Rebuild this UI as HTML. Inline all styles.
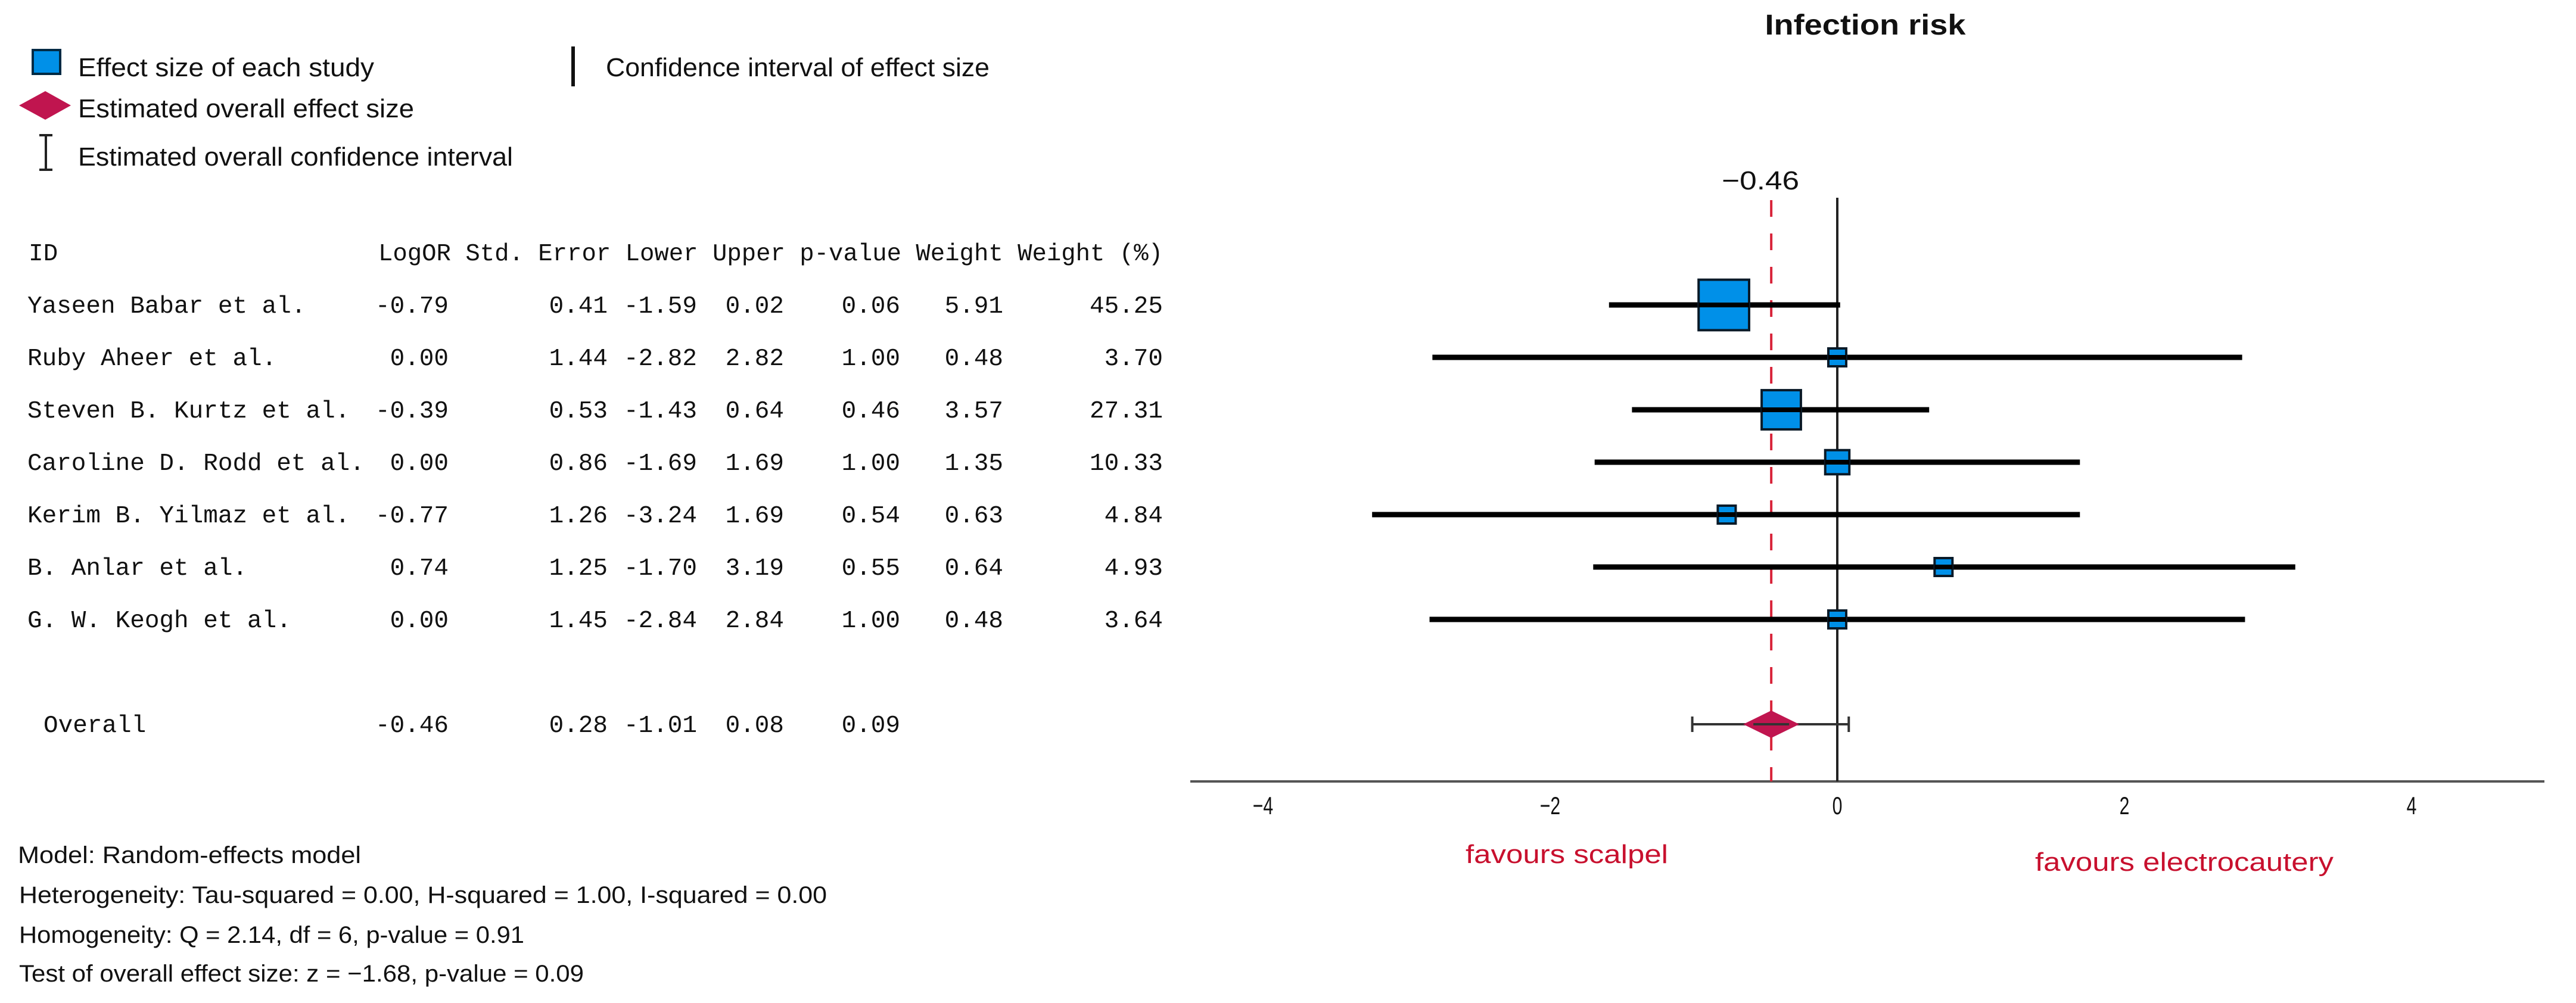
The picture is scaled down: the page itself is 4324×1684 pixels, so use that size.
<!DOCTYPE html>
<html><head><meta charset="utf-8"><style>
html,body{margin:0;padding:0;background:#fff;}
svg{display:block;}
.sans{font-family:"Liberation Sans",sans-serif;}
.mono{font-family:"Liberation Mono",monospace;font-size:41px;fill:#111;}
</style></head><body>
<svg id="chart" width="4324" height="1684" viewBox="0 0 4324 1684" xmlns="http://www.w3.org/2000/svg">
<g class="sans" font-size="44" fill="#111">
  <rect x="55" y="84" width="46" height="40" fill="#0090e8" stroke="#002a44" stroke-width="4"/>
  <text x="131" y="128" textLength="497" lengthAdjust="spacingAndGlyphs">Effect size of each study</text>
  <polygon points="32,177 76,153 119,177 76,201" fill="#c0154f"/>
  <text x="131" y="197" textLength="564" lengthAdjust="spacingAndGlyphs">Estimated overall effect size</text>
  <g stroke="#222" stroke-width="4"><line x1="77" y1="226" x2="77" y2="286"/><line x1="66" y1="227" x2="88" y2="227"/><line x1="66" y1="285" x2="88" y2="285"/></g>
  <text x="131" y="278" textLength="730" lengthAdjust="spacingAndGlyphs">Estimated overall confidence interval</text>
  <line x1="962" y1="78" x2="962" y2="145" stroke="#111" stroke-width="6"/>
  <text x="1017" y="128" textLength="644" lengthAdjust="spacingAndGlyphs">Confidence interval of effect size</text>
</g>
<g id="table"></g>
<g class="sans" font-size="40" fill="#111">
  <text x="30" y="1449" textLength="576" lengthAdjust="spacingAndGlyphs">Model: Random-effects model</text>
  <text x="32" y="1516" textLength="1356" lengthAdjust="spacingAndGlyphs">Heterogeneity: Tau-squared = 0.00, H-squared = 1.00, I-squared = 0.00</text>
  <text x="32" y="1583" textLength="848" lengthAdjust="spacingAndGlyphs">Homogeneity: Q = 2.14, df = 6, p-value = 0.91</text>
  <text x="32" y="1648" textLength="948" lengthAdjust="spacingAndGlyphs">Test of overall effect size: z = −1.68, p-value = 0.09</text>
</g>
<text class="sans" x="3131" y="58" font-size="48" font-weight="bold" text-anchor="middle" textLength="337" lengthAdjust="spacingAndGlyphs" fill="#111">Infection risk</text>
<g id="plot"></g>
</svg>
<script>
const studies = ["Yaseen Babar et al.","Ruby Aheer et al.","Steven B. Kurtz et al.","Caroline D. Rodd et al.","Kerim B. Yilmaz et al.","B. Anlar et al.","G. W. Keogh et al."];
const logOR = [-0.79, 0.00, -0.39, 0.00, -0.77, 0.74, 0.00];
const stdErr = [0.41, 1.44, 0.53, 0.86, 1.26, 1.25, 1.45];
const lower = [-1.59, -2.82, -1.43, -1.69, -3.24, -1.70, -2.84];
const upper = [0.02, 2.82, 0.64, 1.69, 1.69, 3.19, 2.84];
const pValue = [0.06, 1.00, 0.46, 1.00, 0.54, 0.55, 1.00];
const weight = [5.91, 0.48, 3.57, 1.35, 0.63, 0.64, 0.48];
const weightPct = [45.25, 3.70, 27.31, 10.33, 4.84, 4.93, 3.64];
const overall = [-0.46, 0.28, -1.01, 0.08, 0.09];
const xTicks = [-4, -2, 0, 2, 4];

const NS = "http://www.w3.org/2000/svg";
const X0 = 3084, UNIT = 241;
function xs(v){ return X0 + v*UNIT; }
function ys(i){ return 512 + i*88; }
function mk(tag, attrs, parent){ const e=document.createElementNS(NS,tag); for(const k in attrs) e.setAttribute(k,attrs[k]); parent.appendChild(e); return e; }
const plot = document.getElementById('plot');
const table = document.getElementById('table');

// table
const colRight = [753, 1020, 1170, 1316, 1511, 1684, 1952];
let h = mk('text',{x:48,y:ys(-1)+13,class:'mono'},table);


h.textContent='ID';
h = mk('text',{x:635,y:ys(-1)+13,class:'mono',textLength:1317,lengthAdjust:'spacingAndGlyphs'},table);


h.textContent='LogOR Std. Error Lower Upper p-value Weight Weight (%)';
function fmt(v){ return (v<0?'-':'')+Math.abs(v).toFixed(2); }
studies.forEach((s,i)=>{
  const y = ys(i)+13;
  const t = mk('text',{x:46,y:y,class:'mono'},table);
  
  
  t.textContent=s;
  const vals=[logOR[i],stdErr[i],lower[i],upper[i],pValue[i],weight[i],weightPct[i]];
  vals.forEach((v,j)=>{
    const c = mk('text',{x:colRight[j],y:y,class:'mono','text-anchor':'end'},table);
    
    
    c.textContent=fmt(v);
  });
});
const oy = ys(8)+13;
let ot = mk('text',{x:73,y:oy,class:'mono'},table);


ot.textContent='Overall';
overall.forEach((v,j)=>{
  const c = mk('text',{x:colRight[j],y:oy,class:'mono','text-anchor':'end'},table);
  
  
  c.textContent=fmt(v);
});

// axis
let ax = mk('line',{x1:1998,y1:1312,x2:4271,y2:1312,stroke:'#555','stroke-width':4},plot);


xTicks.forEach(t=>{
  const e = mk('text',{x:xs(t),y:1367,'font-size':42,'text-anchor':'middle',class:'sans',fill:'#111'},plot);
  
  
  e.setAttribute('transform',`translate(${xs(t)},0) scale(0.72,1) translate(${-xs(t)},0)`);
  e.textContent = t<0 ? '−'+Math.abs(t) : String(t);
});
let zl = mk('line',{x1:xs(0),y1:332,x2:xs(0),y2:1312,stroke:'#222','stroke-width':4},plot);


let dl = mk('line',{x1:xs(overall[0]),y1:336,x2:xs(overall[0]),y2:1312,stroke:'#d8243a','stroke-width':4,'stroke-dasharray':'28 28'},plot);


let ol = mk('text',{x:xs(overall[0])-18,y:318,'font-size':44,'text-anchor':'middle',class:'sans',fill:'#111',textLength:130,lengthAdjust:'spacingAndGlyphs'},plot);


ol.textContent='−'+Math.abs(overall[0]).toFixed(2);

// studies
studies.forEach((s,i)=>{
  const y=ys(i);
  const l = mk('line',{x1:xs(lower[i]),y1:y,x2:xs(upper[i]),y2:y,stroke:'#000','stroke-width':9},plot);
  
  
  const sz = Math.max(30, 12.6*Math.sqrt(weightPct[i]));
  const r = mk('rect',{x:xs(logOR[i])-sz/2,y:y-sz/2,width:sz,height:sz,fill:'#0090e8',stroke:'#0a1a28','stroke-width':4},plot);
  
  
  const l2 = mk('line',{x1:xs(logOR[i])-sz/2,y1:y,x2:xs(logOR[i])+sz/2,y2:y,stroke:'#000','stroke-width':8},plot);
  
  
});
// overall
const y8=ys(8);
const g = mk('g',{stroke:'#333','stroke-width':4},plot);


mk('line',{x1:xs(overall[2]),y1:y8,x2:xs(overall[3]),y2:y8},g);
mk('line',{x1:xs(overall[2]),y1:y8-13,x2:xs(overall[2]),y2:y8+13},g);
mk('line',{x1:xs(overall[3]),y1:y8-13,x2:xs(overall[3]),y2:y8+13},g);
const cx=xs(overall[0]);
const d = mk('polygon',{points:`${cx-47},${y8} ${cx},${y8-23} ${cx+47},${y8} ${cx},${y8+23}`,fill:'#c0154f'},plot);


mk('line',{x1:cx-30,y1:y8,x2:cx+30,y2:y8,stroke:'#333','stroke-width':4},plot);

const f1 = mk('text',{x:2460,y:1449,'font-size':44,class:'sans',fill:'#c8102e',textLength:340,lengthAdjust:'spacingAndGlyphs'},plot);


f1.textContent='favours scalpel';
const f2 = mk('text',{x:3416,y:1462,'font-size':44,class:'sans',fill:'#c8102e',textLength:501,lengthAdjust:'spacingAndGlyphs'},plot);


f2.textContent='favours electrocautery';
</script>
</body></html>
